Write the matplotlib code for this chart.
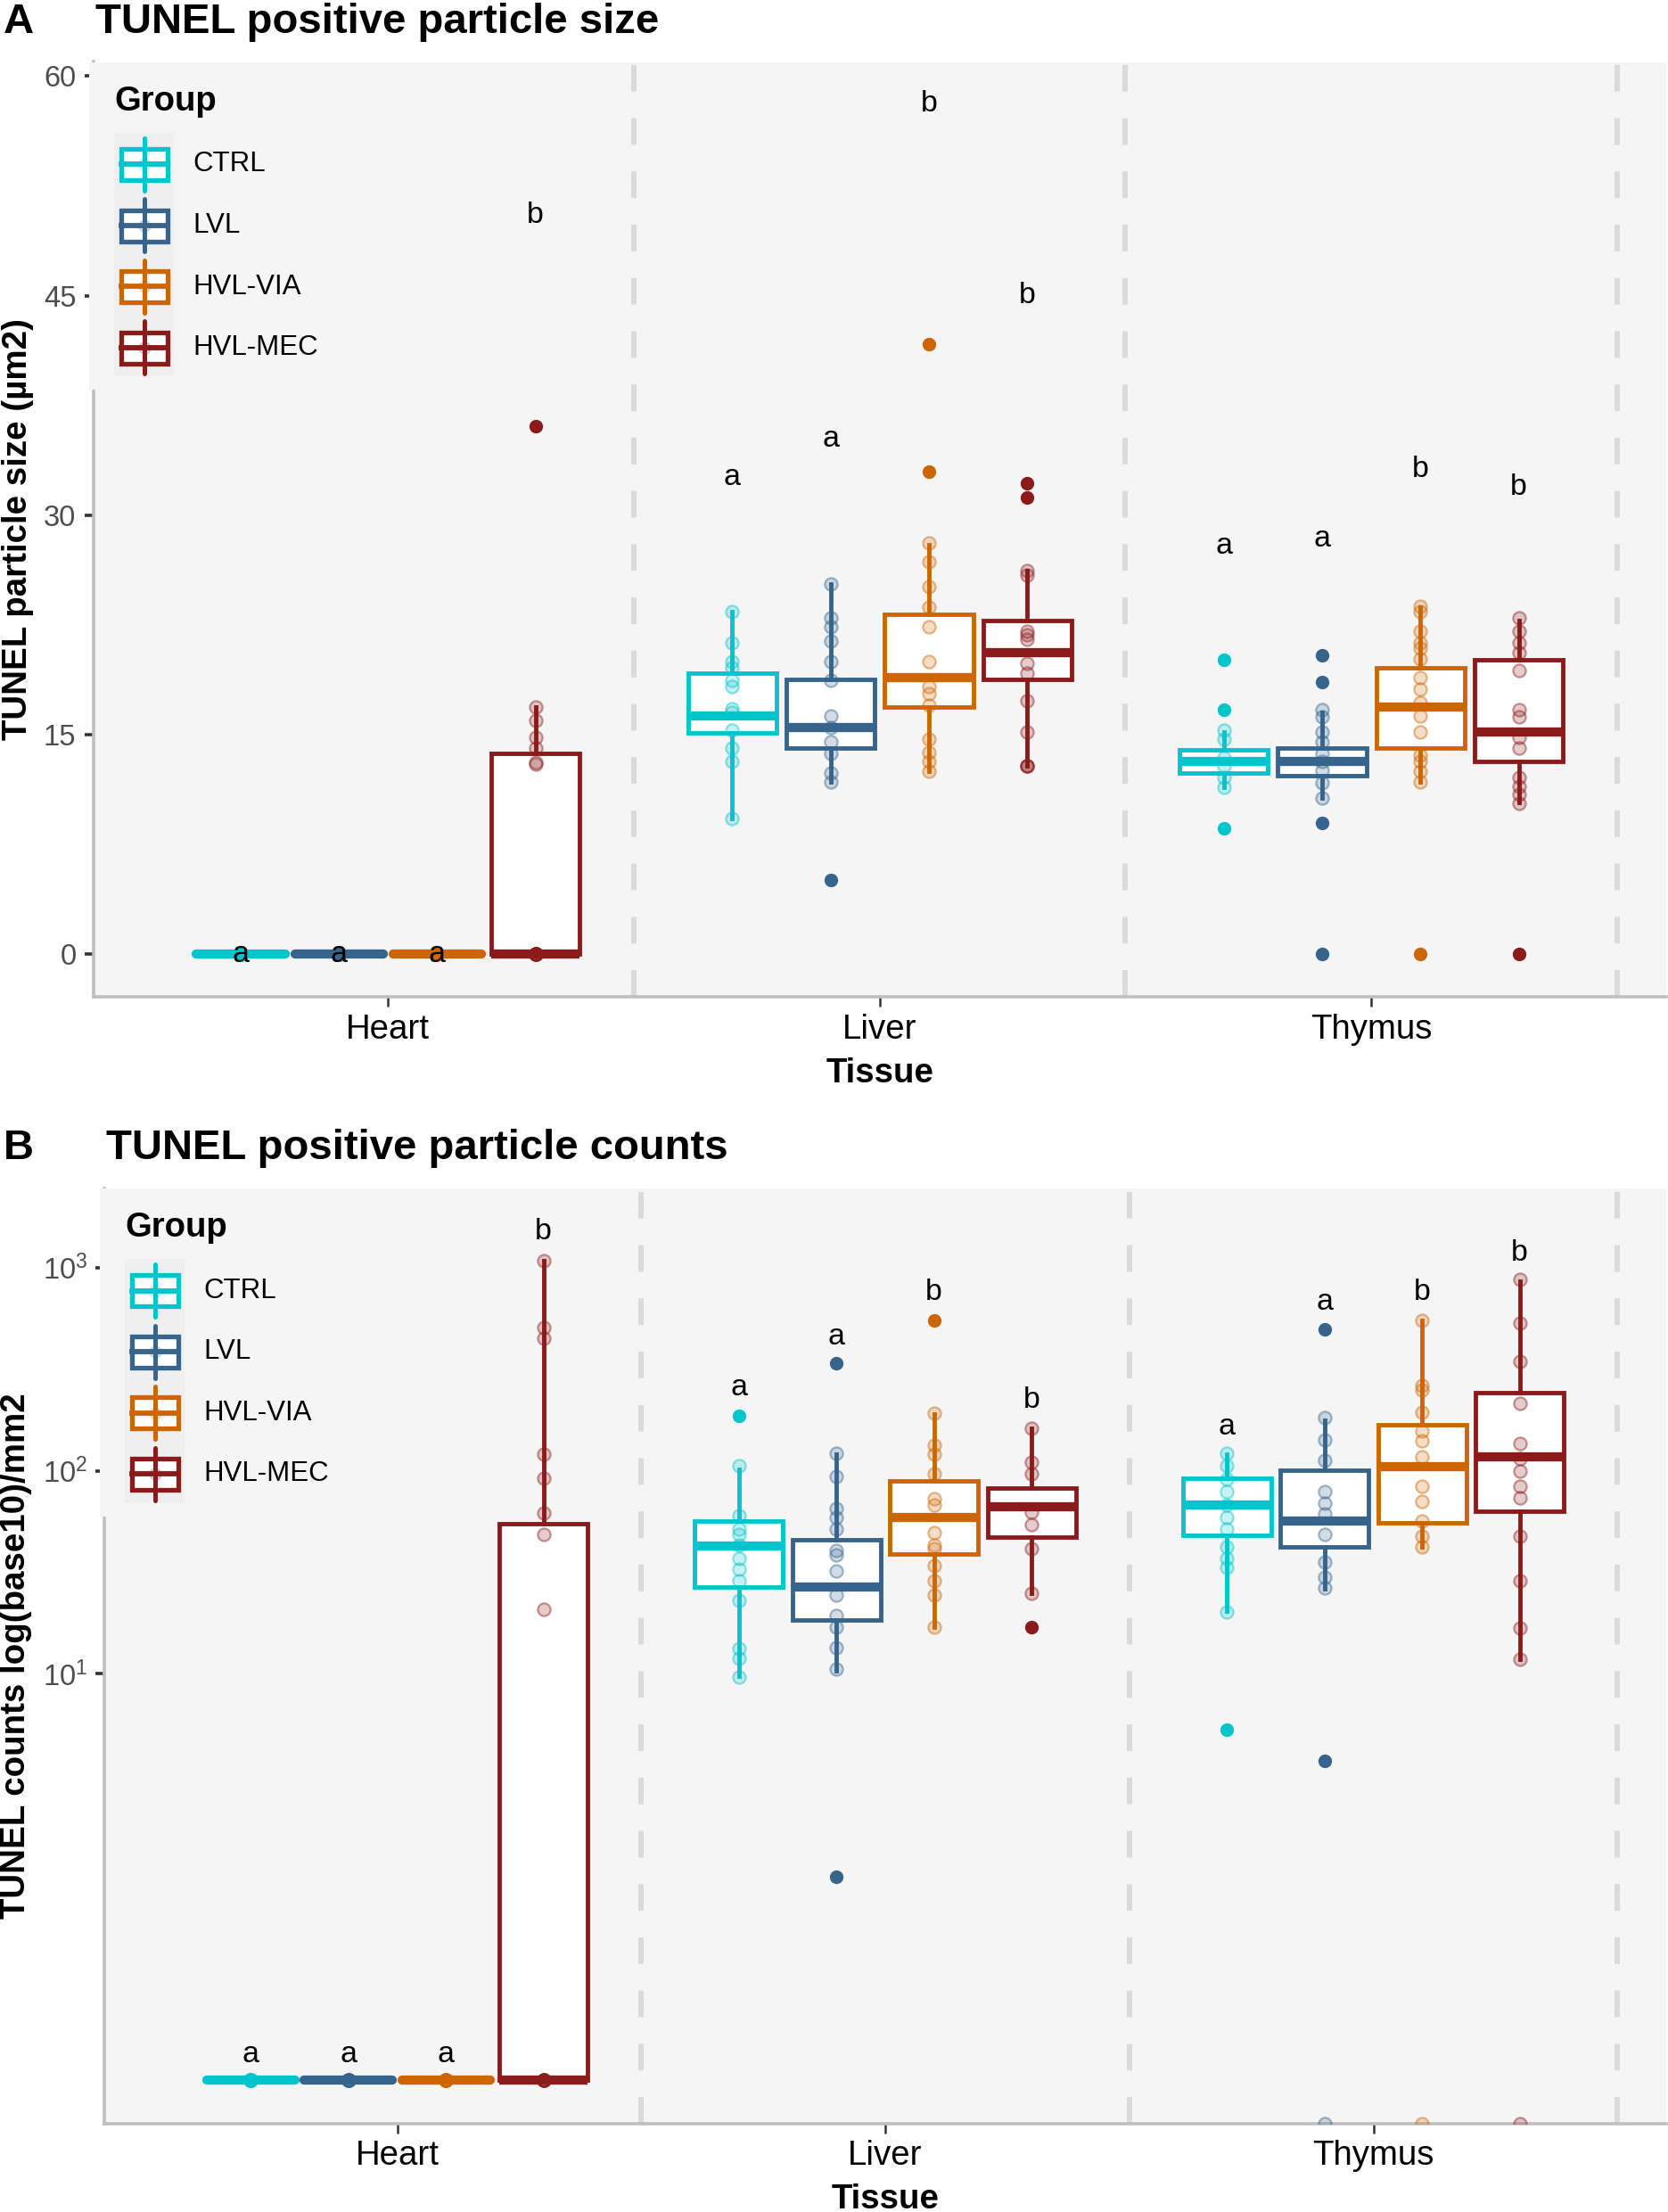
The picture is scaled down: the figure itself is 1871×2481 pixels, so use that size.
import matplotlib
matplotlib.use('Agg')
import matplotlib.pyplot as plt
from matplotlib.patches import Rectangle
from matplotlib.ticker import NullLocator
from matplotlib.colors import to_rgba

plt.rcParams['font.family'] = ['Liberation Sans', 'DejaVu Sans']
plt.rcParams['mathtext.default'] = 'regular'

W, H = 1871, 2481

tissues = ['Heart', 'Liver', 'Thymus']
groups = ['CTRL', 'LVL', 'HVL-VIA', 'HVL-MEC']
colors = ['#00C5CD', '#36648B', '#CD6600', '#8B1A1A']
panel_bg = '#F5F5F5'

# ---- Panel A: particle size (um2), stats indexed [tissue][group]
size_q1 = [[0, 0, 0, 0], [15.1, 14.1, 16.9, 18.8], [12.4, 12.2, 14.1, 13.2]]
size_med = [[0, 0, 0, 0], [16.3, 15.5, 18.9, 20.6], [13.2, 13.2, 16.9, 15.2]]
size_q3 = [[0, 0, 0, 13.7], [19.2, 18.8, 23.2, 22.8], [14.0, 14.1, 19.6, 20.1]]
size_lo = [[0, 0, 0, 0], [9.3, 11.8, 12.5, 12.9], [11.4, 10.7, 11.8, 10.4]]
size_hi = [[0, 0, 0, 16.9], [23.4, 25.3, 28.0, 26.2], [15.2, 16.5, 23.7, 22.8]]
size_out = [[[], [], [], [36.1]],
            [[], [5.1], [33.0, 41.7], [32.2, 31.2]],
            [[20.1, 16.7, 8.6], [20.4, 18.6, 9.0, 0], [0], [0]]]
size_pts = [[[0] * 8, [0] * 8, [0] * 8, [0] * 8 + [13.0, 13.1, 14.1, 14.8, 16.0, 16.9]],
            [[23.4, 21.3, 20.0, 19.6, 18.7, 18.3, 16.8, 16.5, 15.3, 14.1, 13.2, 9.3],
             [25.3, 23.0, 22.4, 21.4, 20.0, 18.7, 16.3, 15.5, 14.5, 13.7, 12.4, 11.8],
             [28.1, 26.8, 25.1, 23.7, 22.4, 20.0, 18.3, 17.8, 17.0, 14.7, 13.8, 13.2, 12.5],
             [26.2, 25.9, 22.1, 21.8, 21.5, 19.9, 19.2, 17.3, 15.2, 12.9, 12.9, 12.9]],
            [[15.3, 14.7, 13.4, 12.9, 12.1, 11.4],
             [16.7, 16.2, 15.2, 14.5, 13.7, 13.2, 12.6, 11.7, 10.7],
             [23.8, 23.4, 22.1, 21.3, 20.9, 20.2, 18.9, 18.1, 17.2, 16.3, 15.2, 13.6, 13.2, 12.5, 11.8],
             [23.0, 22.1, 21.3, 20.6, 19.4, 16.7, 16.2, 14.8, 14.1, 12.1, 11.5, 10.9, 10.3]]]
size_letters = [['a', 'a', 'a', 'b'], ['a', 'a', 'b', 'b'], ['a', 'a', 'b', 'b']]
size_letter_y = [[0, 0, 0, 50.5], [32.6, 35.2, 58.1, 45.0], [27.9, 28.4, 33.1, 31.9]]

# ---- Panel B: particle counts per mm2 (log scale)
cnt_q1 = [[0.1, 0.1, 0.1, 0.1], [26.8, 18.3, 38.9, 47.1], [48.2, 42.0, 55.1, 63.1]]
cnt_med = [[0.1, 0.1, 0.1, 0.1], [42.5, 26.7, 59.1, 66.4], [67.9, 56.2, 105, 117]]
cnt_q3 = [[0.1, 0.1, 0.1, 54.8], [56.3, 45.7, 88.6, 82.2], [92.2, 101, 168, 242]]
cnt_lo = [[0.1, 0.1, 0.1, 0.1], [9.7, 10.3, 17.0, 24.9], [20.4, 26.3, 42.0, 11.8]]
cnt_hi = [[0.1, 0.1, 0.1, 1086], [102, 121, 190, 161], [120, 178, 548, 860]]
cnt_out = [[[], [], [], []],
           [[187], [337, 1.0], [548], [17.0]],
           [[5.3], [497, 3.7], [], []]]
cnt_pts = [[[0.1] * 8, [0.1] * 8, [0.1] * 8, [0.1] * 6 + [20.7, 48.3, 62, 92, 121, 448, 506, 1086]],
           [[106, 60, 51.8, 48.6, 42.8, 37, 32.6, 28.8, 22.9, 13.3, 11.9, 9.6],
            [122, 94, 65, 58.7, 51.8, 40.3, 38.6, 31.9, 24.3, 19.3, 17.0, 13.5, 10.5],
            [192, 133, 120, 97, 72.4, 68, 49.7, 42.8, 41.1, 34, 28.8, 24.3, 17.0],
            [162, 110, 97, 62.5, 54, 41.1, 24.8]],
           [[122, 106, 91.2, 78.7, 68, 58.7, 51.8, 42, 37, 33.3, 20.1],
            [182, 142, 112, 78.7, 69.4, 61.2, 48.6, 35.5, 30, 26.5, 0],
            [548, 264, 250, 194, 157, 140, 117, 84, 70.9, 56.2, 47.5, 42, 0],
            [879, 531, 345, 214, 136, 115, 99.4, 84, 73.3, 47.6, 28.8, 16.7, 11.8, 0]]]
cnt_letters = [['a', 'a', 'a', 'b'], ['a', 'a', 'b', 'b'], ['a', 'a', 'b', 'b']]
cnt_letter_y = [[0.133, 0.133, 0.133, 1500], [255, 458, 758, 223], [164, 675, 753, 1183]]

offsets = [-0.3, -0.1, 0.1, 0.3]

fig = plt.figure(figsize=(W / 100, H / 100), dpi=100)


def px_axes(left, top, right, bottom):
    return fig.add_axes([left / W, 1 - bottom / H, (right - left) / W, (bottom - top) / H])


def draw_panel(ax, q1, med, q3, lo, hi, out, pts, letters, letter_y, ybot):
    ax.set_facecolor(panel_bg)
    for x in [1.5, 2.5, 3.5]:
        ax.axvline(x, color='#DADADA', lw=4.3, dashes=(5, 5), zorder=0.5)
    for t in range(3):
        for g in range(4):
            pos = t + 1 + offsets[g]
            c = colors[g]
            fl = [v if v > 0 else ybot for v in out[t][g]]
            st = [dict(med=med[t][g], q1=q1[t][g], q3=q3[t][g],
                       whislo=lo[t][g], whishi=hi[t][g], fliers=fl)]
            flat = q1[t][g] == q3[t][g]
            ax.bxp(st, positions=[pos], widths=0.18, patch_artist=True,
                   showcaps=False, manage_ticks=False,
                   boxprops=dict(facecolor='white', edgecolor=c, linewidth=3.5),
                   whiskerprops=dict(color=c, linewidth=3.5),
                   medianprops=dict(color=c, linewidth=7.4,
                                    solid_capstyle='round' if flat else 'butt'),
                   flierprops=dict(marker='o', markerfacecolor=c,
                                   markeredgecolor=c, markersize=10))
            yv = [v if v > 0 else ybot for v in pts[t][g]]
            ax.scatter([pos] * len(yv), yv, s=105, facecolors=[to_rgba(c, 0.22)],
                       edgecolors=[to_rgba(c, 0.45)], linewidths=1.6, zorder=3)
            ax.text(pos, letter_y[t][g], letters[t][g], ha='center', va='center',
                    fontsize=24.5, zorder=4)
    ax.set_xlim(0.4, 3.6)
    ax.set_xticks([1, 2, 3])
    ax.set_xticklabels(tissues, fontsize=27.6, color='black')
    for s in ['top', 'right']:
        ax.spines[s].set_visible(False)
    for s in ['left', 'bottom']:
        ax.spines[s].set_color('#BFBFBF')
        ax.spines[s].set_linewidth(2.6)
    ax.tick_params(axis='x', length=7.9, width=1.8, color='#333333', pad=5.5)
    ax.tick_params(axis='y', length=7.2, width=2.6, color='#333333', pad=6.5,
                   labelsize=23.5, labelcolor='#4D4D4D')
    ax.set_xlabel('Tissue', fontsize=27.7, fontweight='bold', va='top')


def draw_legend(ax):
    bb = ax.get_position()
    lpx = bb.x0 * W - 5
    tpx = (1 - bb.y1) * H
    lax = fig.add_axes([lpx / W, 1 - (tpx + 368) / H, 300 / W, 368 / H])
    lax.set_xlim(0, 300)
    lax.set_ylim(368, 0)
    lax.set_facecolor(panel_bg)
    lax.set_xticks([])
    lax.set_yticks([])
    for s in lax.spines.values():
        s.set_visible(False)
    lax.text(28.5, 44, 'Group', fontsize=27.5, fontweight='bold', va='center', ha='left')
    lax.add_patch(Rectangle((28, 79), 67.5, 274, facecolor='#EFEFEF', edgecolor='none'))
    for i, g in enumerate(groups):
        cy = 115 + i * 68.5
        c = colors[i]
        lax.plot([62, 62], [cy - 29.5, cy + 29.5], color=c, lw=3.6, solid_capstyle='round')
        lax.add_patch(Rectangle((62 - 26, cy - 17.5), 52, 35, facecolor='white',
                                edgecolor=c, lw=3.8))
        lax.plot([36, 88], [cy, cy], color=c, lw=4.2)
        lax.scatter([62], [cy], s=90, color=c, alpha=0.2, zorder=3)
        lax.text(116.5, cy, g, fontsize=22.5, va='center', ha='left')


# Panel A
axA = px_axes(104.5, 69.5, 1869, 1118)
draw_panel(axA, size_q1, size_med, size_q3, size_lo, size_hi, size_out, size_pts,
           size_letters, size_letter_y, 0)
axA.set_ylim(-2.9, 60.96)
axA.set_yticks([0, 15, 30, 45, 60])
axA.set_ylabel('TUNEL particle size (µm2)', fontsize=27.7, fontweight='bold')
axA.yaxis.set_label_coords((38 - 104.5) / (1869 - 104.5), 0.5)
axA.xaxis.set_label_coords(0.5, -(1186 - 1118) / (1118 - 69.5))
draw_legend(axA)

# Panel B
ybot = 10 ** -1.216
axB = px_axes(117, 1332.6, 1869, 2381.7)
axB.set_yscale('log')
draw_panel(axB, cnt_q1, cnt_med, cnt_q3, cnt_lo, cnt_hi, cnt_out, cnt_pts,
           cnt_letters, cnt_letter_y, ybot)
axB.set_ylim(ybot, 10 ** 3.392)
axB.set_yticks([10, 100, 1000])
axB.set_yticklabels(['$10^{1}$', '$10^{2}$', '$10^{3}$'])
axB.yaxis.set_minor_locator(NullLocator())
axB.set_ylabel('TUNEL counts log(base10)/mm2', fontsize=27.7, fontweight='bold')
axB.yaxis.set_label_coords((36 - 117) / (1869 - 117), 0.5)
axB.xaxis.set_label_coords(0.5, -(2449 - 2381.7) / (2381.7 - 1332.6))
draw_legend(axB)

# panel titles
fig.text(4 / W, 1 - 25 / H, 'A', fontsize=34, fontweight='bold', va='center')
fig.text(107 / W, 1 - 25 / H, 'TUNEL positive particle size', fontsize=34,
         fontweight='bold', va='center')
fig.text(4 / W, 1 - 1288 / H, 'B', fontsize=34, fontweight='bold', va='center')
fig.text(119 / W, 1 - 1288 / H, 'TUNEL positive particle counts', fontsize=34,
         fontweight='bold', va='center')

fig.savefig('out.png', dpi=100, facecolor='white')
